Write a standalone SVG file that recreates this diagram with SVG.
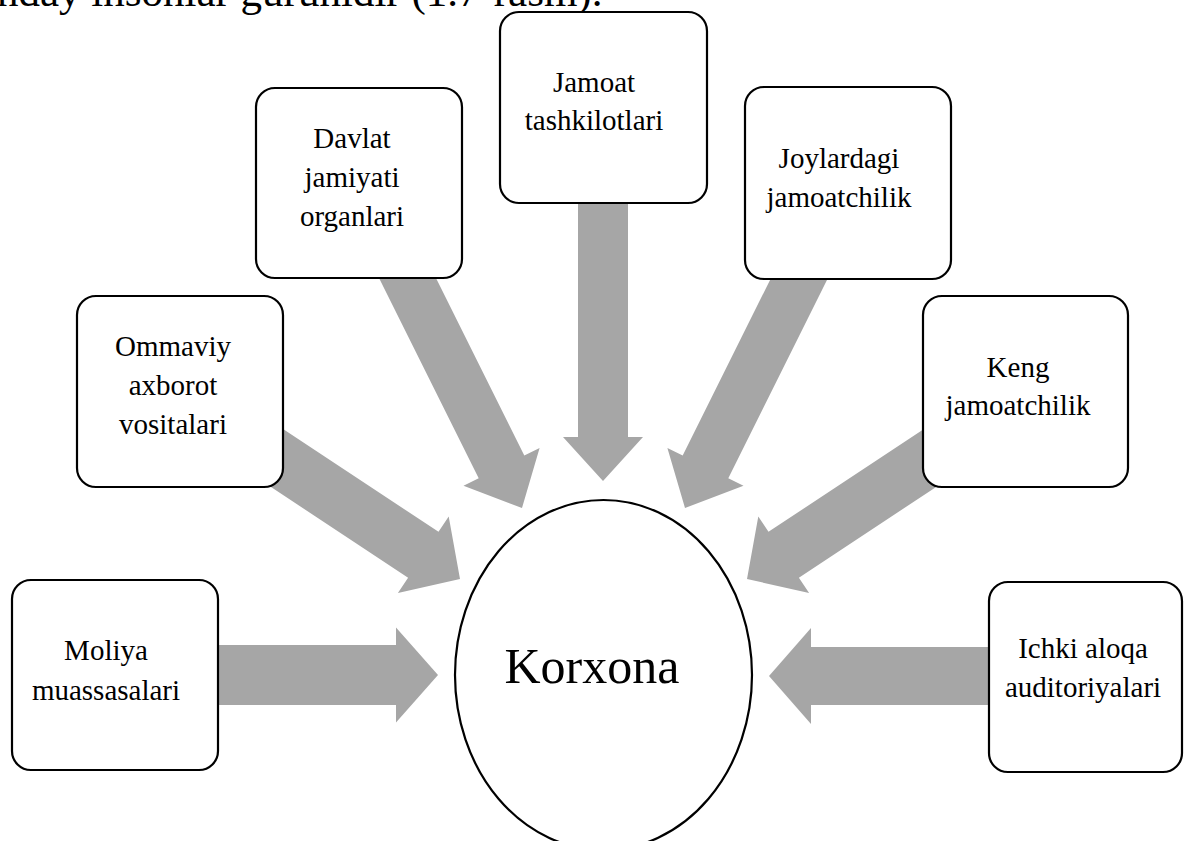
<svg xmlns="http://www.w3.org/2000/svg" width="1184" height="841" viewBox="0 0 1184 841">
  <style>
    .box { fill: #ffffff; stroke: #000000; stroke-width: 2.2; }
    .arrow { fill: #A6A6A6; stroke: none; }
    .label { font-family: "Liberation Serif", "Times New Roman", serif; font-size: 29px; fill: #000000; text-anchor: middle; }
    .head { font-family: "Liberation Serif", "Times New Roman", serif; font-size: 43px; fill: #000000; }
    .core { font-family: "Liberation Serif", "Times New Roman", serif; font-size: 50px; fill: #000000; text-anchor: middle; }
  </style>

  <rect width="1184" height="841" fill="#ffffff"/>

  <!-- running text line, top cut by the page edge -->
  <text class="head" x="-3" y="6">nday insonlar guruhidir (1.7-rasm).</text>

  <!-- block arrows pointing at the central ellipse -->
  <g id="connectors">
    <polygon class="arrow" points="200,645 396,645 396,627.5 438,675 396,722.5 396,705 200,705"/>
    <polygon class="arrow" points="1000,647 811,647 811,628 769,676 811,724 811,705 1000,705"/>
    <polygon class="arrow" points="578,190 628,190 628,437 643,437 603,481 563,437 578,437"/>
    <polygon class="arrow" points="417.9,241.7 524.3,455.4 539.6,447.9 522,508 463.5,485.7 478.7,478.2 372.3,264.5"/>
    <polygon class="arrow" points="789.1,241.7 682.7,455.4 667.4,447.9 685,508 743.5,485.7 728.3,478.2 834.7,264.5"/>
    <polygon class="arrow" points="273.2,422.6 438.5,531.8 448.7,516.4 460,579 397.9,593.1 408.1,577.7 242.8,468.4"/>
    <polygon class="arrow" points="933.8,422.6 768.5,531.8 758.3,516.4 747,579 809.1,593.1 798.9,577.7 964.2,468.4"/>
  </g>

  <g id="korxona">
    <ellipse class="box" cx="603.5" cy="675" rx="148.5" ry="175"/>
    <text class="core" x="592" y="683">Korxona</text>
  </g>

  <g id="jamoat-tashkilotlari">
    <rect class="box" x="500" y="12" width="207" height="191" rx="19"/>
    <text class="label" x="594" y="92">Jamoat</text>
    <text class="label" x="594" y="130">tashkilotlari</text>
  </g>

  <g id="davlat-organlari">
    <rect class="box" x="256" y="88" width="206" height="190" rx="19"/>
    <text class="label" x="352" y="148">Davlat</text>
    <text class="label" x="352" y="187">jamiyati</text>
    <text class="label" x="352" y="226">organlari</text>
  </g>

  <g id="joylardagi-jamoatchilik">
    <rect class="box" x="745" y="87" width="206" height="192" rx="19"/>
    <text class="label" x="839" y="168">Joylardagi</text>
    <text class="label" x="839" y="207">jamoatchilik</text>
  </g>

  <g id="ommaviy-axborot">
    <rect class="box" x="77" y="296" width="206" height="191" rx="19"/>
    <text class="label" x="173" y="356">Ommaviy</text>
    <text class="label" x="173" y="395">axborot</text>
    <text class="label" x="173" y="434">vositalari</text>
  </g>

  <g id="keng-jamoatchilik">
    <rect class="box" x="923" y="296" width="205" height="191" rx="19"/>
    <text class="label" x="1018" y="377">Keng</text>
    <text class="label" x="1018" y="415">jamoatchilik</text>
  </g>

  <g id="moliya-muassasalari">
    <rect class="box" x="12" y="580" width="206" height="190" rx="19"/>
    <text class="label" x="106" y="660">Moliya</text>
    <text class="label" x="106" y="700">muassasalari</text>
  </g>

  <g id="ichki-aloqa">
    <rect class="box" x="989" y="582" width="193" height="190" rx="19"/>
    <text class="label" x="1083" y="658">Ichki aloqa</text>
    <text class="label" x="1083" y="697">auditoriyalari</text>
  </g>
</svg>
